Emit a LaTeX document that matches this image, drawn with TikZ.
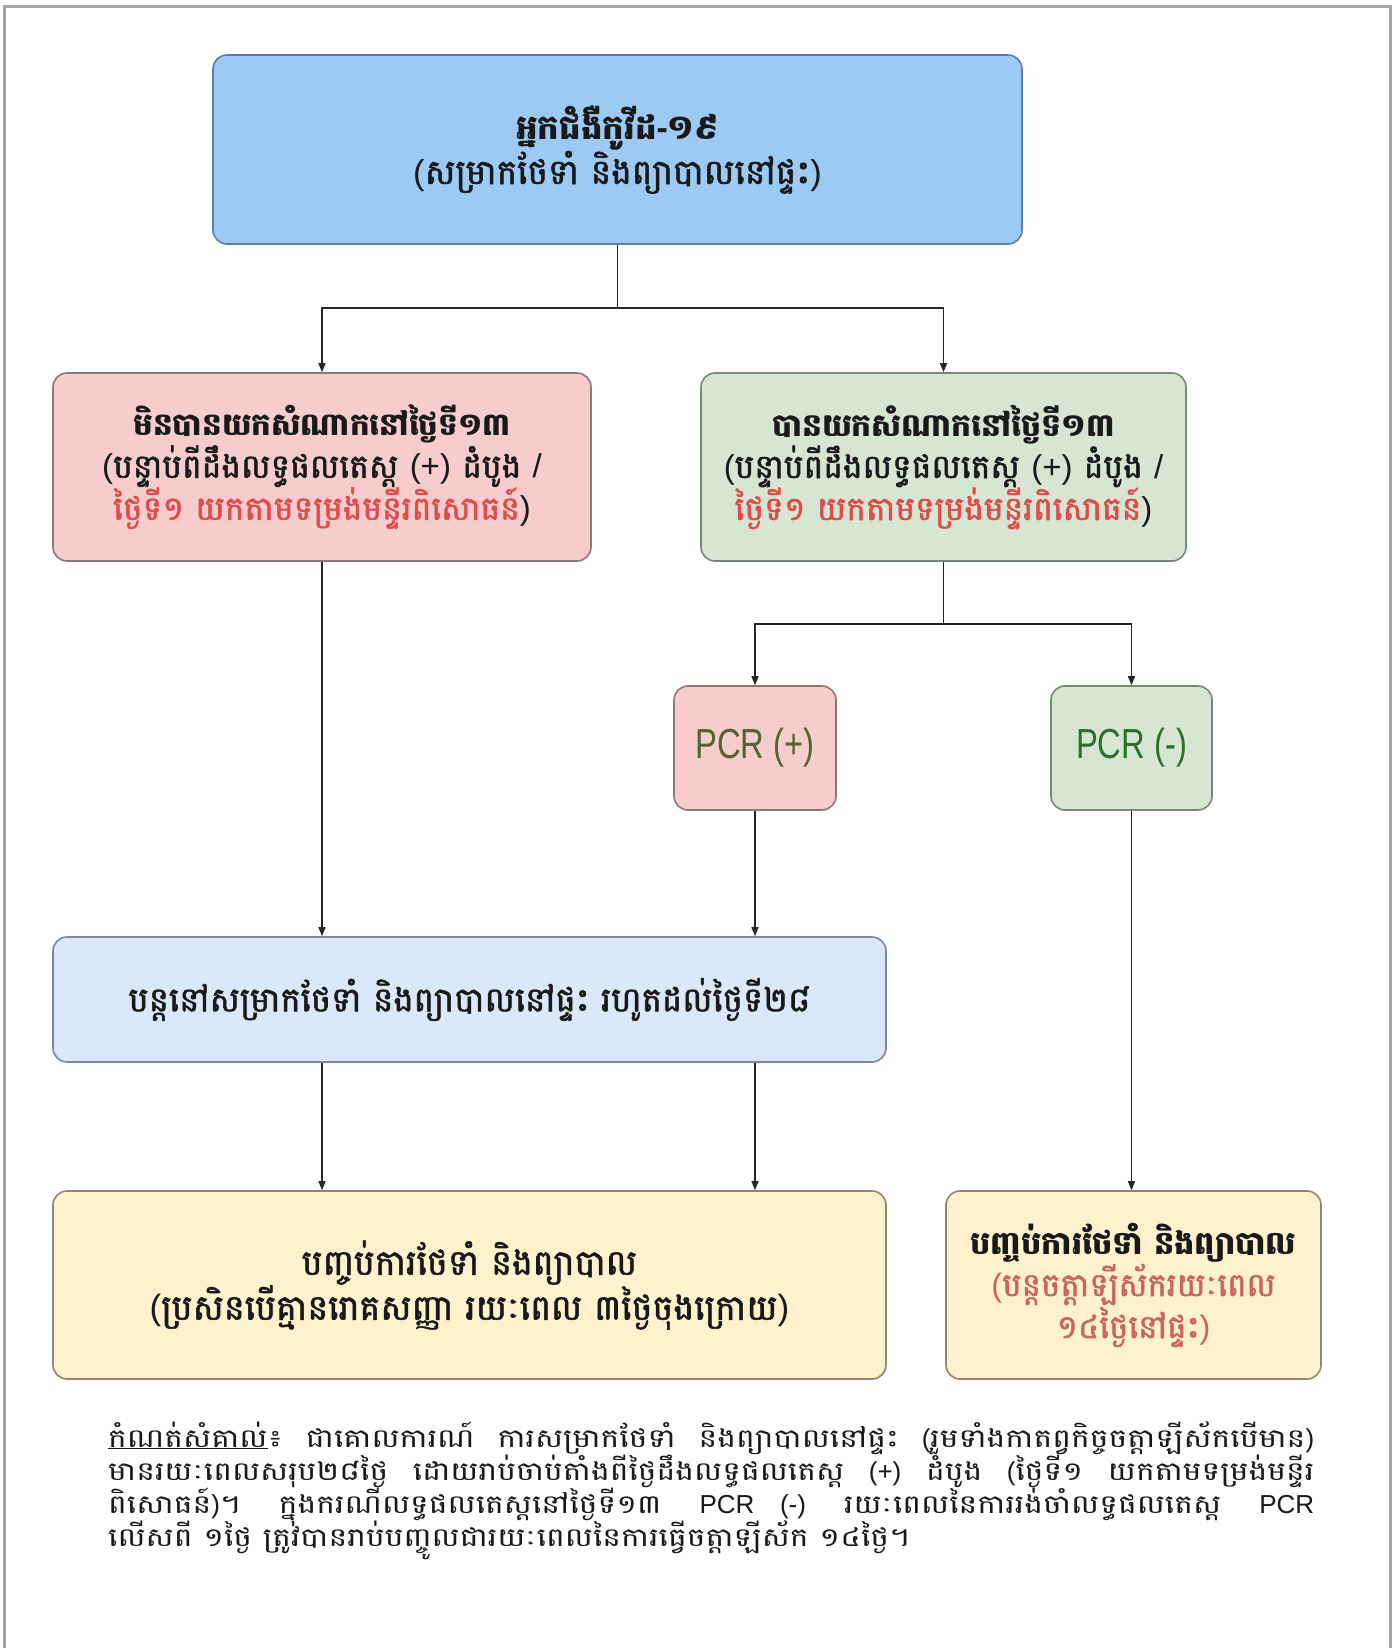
\documentclass[tikz,border=0pt]{standalone}
\usepackage{fontspec}
\usetikzlibrary{arrows.meta}
\setmainfont{Liberation Sans}
\newfontfamily\kh[Script=Khmer]{Battambang}
\newfontfamily\khm[Script=Khmer,FakeBold=1.6]{Battambang}
\newfontfamily\khn[Script=Khmer,FakeStretch=1.21]{Battambang}
\newcommand{\lat}[1]{{\rmfamily #1}}
\newcommand{\hd}[2]{{\kh\bfseries\fontsize{#1}{42}\selectfont #2}}
\newcommand{\notefont}{\khn\fontsize{26}{33}\selectfont\lineskiplimit=-60pt\relax}
\definecolor{topfill}{RGB}{156,202,245}
\definecolor{topdraw}{RGB}{95,125,170}
\definecolor{redfill}{RGB}{246,204,204}
\definecolor{reddraw}{RGB}{145,120,120}
\definecolor{grnfill}{RGB}{214,230,211}
\definecolor{grndraw}{RGB}{120,135,120}
\definecolor{bluefill}{RGB}{218,232,250}
\definecolor{bluedraw}{RGB}{120,135,170}
\definecolor{yelfill}{RGB}{253,242,205}
\definecolor{yeldraw}{RGB}{145,135,110}
\definecolor{txtred}{RGB}{225,75,75}
\definecolor{txtred2}{RGB}{205,100,95}
\definecolor{pcrplus}{RGB}{80,100,45}
\definecolor{pcrminus}{RGB}{45,110,45}
\definecolor{framegray}{RGB}{165,165,165}
\definecolor{txtdark}{RGB}{25,25,25}
\begin{document}
\begin{tikzpicture}[x=1pt,y=-1pt,
  box/.style={draw, rounded corners=14pt, line width=1.6pt, inner sep=0pt, align=center, text=txtdark},
  conn/.style={line width=1.4pt, draw=black!85},
  arr/.style={conn, -{Triangle[length=9pt,width=7pt]}},
  khsz/.style={font=\khm\fontsize{#1}{42}\selectfont},
  ]
\useasboundingbox (0,0) rectangle (1395,1648);
\fill[white] (0,0) rectangle (1395,1648);
\draw[framegray, line width=3pt] (4,1660) -- (4,7) -- (1390,7) -- (1390,1660);

\node[box, fill=topfill, draw=topdraw, minimum width=809pt, minimum height=189pt, khsz=34.5] (top) at (617.5,149.5)
  {\hd{34}{អ្នកជំងឺកូវីដ\lat{-}១៩}\\\lat{(}សម្រាកថែទាំ និងព្យាបាលនៅផ្ទះ\lat{)}};

\node[box, fill=redfill, draw=reddraw, minimum width=538pt, minimum height=188pt, khsz=33] (red) at (322,467)
  {\hd{31}{មិនបានយកសំណាកនៅថ្ងៃទី១៣}\\\lat{(}បន្ទាប់ពីដឹងលទ្ធផលតេស្ត \lat{(+)} ដំបូង \lat{/}\\{\color{txtred}ថ្ងៃទី១ យកតាមទម្រង់មន្ទីរពិសោធន៍}\lat{)}};

\node[box, fill=grnfill, draw=grndraw, minimum width=485pt, minimum height=188pt, khsz=33] (green) at (943.5,467)
  {\hd{31.5}{បានយកសំណាកនៅថ្ងៃទី១៣}\\\lat{(}បន្ទាប់ពីដឹងលទ្ធផលតេស្ត \lat{(+)} ដំបូង \lat{/}\\{\color{txtred}ថ្ងៃទី១ យកតាមទម្រង់មន្ទីរពិសោធន៍}\lat{)}};

\node[box, fill=redfill, draw=reddraw, minimum width=162pt, minimum height=124pt, text=pcrplus] (pcrp) at (755,748)
  {\scalebox{0.78}[1]{\fontsize{42}{42}\selectfont PCR (+)}};
\node[box, fill=grnfill, draw=grndraw, minimum width=161pt, minimum height=124pt, text=pcrminus] (pcrm) at (1131.5,748)
  {\scalebox{0.78}[1]{\fontsize{42}{42}\selectfont PCR (-)}};

\node[box, fill=bluefill, draw=bluedraw, minimum width=833pt, minimum height=125pt, khsz=34] (blue) at (469.5,999.5)
  {បន្តនៅសម្រាកថែទាំ និងព្យាបាលនៅផ្ទះ រហូតដល់ថ្ងៃទី២៨};

\node[box, fill=yelfill, draw=yeldraw, minimum width=833pt, minimum height=188pt, khsz=35] (yl) at (469.5,1285)
  {បញ្ចប់ការថែទាំ និងព្យាបាល\\\lat{(}ប្រសិនបើគ្មានរោគសញ្ញា រយៈពេល ៣ថ្ងៃចុងក្រោយ\lat{)}};

\node[box, fill=yelfill, draw=yeldraw, minimum width=375pt, minimum height=188pt, khsz=32.5] (yr) at (1133.5,1285)
  {\hd{32}{បញ្ចប់ការថែទាំ និងព្យាបាល}\\{\color{txtred2}\lat{(}បន្តចត្តាឡីស័ករយៈពេល}\\{\color{txtred2}១៤ថ្ងៃនៅផ្ទះ\lat{)}}};

\coordinate (j1) at (617.5,308);
\coordinate (j2) at (943.5,624);
\draw[conn] (top.south) -- (j1);
\draw[arr] (j1) -| (red.north);
\draw[arr] (j1) -| (green.north);
\draw[conn] (green.south) -- (j2);
\draw[arr] (j2) -| (pcrp.north);
\draw[arr] (j2) -| (pcrm.north);
\draw[arr] (red.south) -- (red.south |- blue.north);
\draw[arr] (pcrp.south) -- (pcrp.south |- blue.north);
\draw[arr] (red.south |- blue.south) -- (red.south |- yl.north);
\draw[arr] (pcrp.south |- blue.south) -- (pcrp.south |- yl.north);
\draw[arr] (pcrm.south) -- (pcrm.south |- yr.north);

\node[anchor=north west, inner sep=0pt, align=left, text=txtdark, font=\notefont] (note) at (108,1421)
  {\makebox[1206pt][s]{\underline{កំណត់សំគាល់}៖ ជាគោលការណ៍ ការសម្រាកថែទាំ និងព្យាបាលនៅផ្ទះ \lat{(}រួមទាំងកាតព្វកិច្ចចត្តាឡីស័កបើមាន\lat{)}}\\
   \makebox[1206pt][s]{មានរយៈពេលសរុប២៨ថ្ងៃ ដោយរាប់ចាប់តាំងពីថ្ងៃដឹងលទ្ធផលតេស្ត \lat{(+)} ដំបូង \lat{(}ថ្ងៃទី១ យកតាមទម្រង់មន្ទីរ}\\
   \makebox[1206pt][s]{ពិសោធន៍\lat{)}។ ក្នុងករណីលទ្ធផលតេស្តនៅថ្ងៃទី១៣ \lat{PCR (-)} រយៈពេលនៃការរង់ចាំលទ្ធផលតេស្ត \lat{PCR}}\\
   លើសពី ១ថ្ងៃ ត្រូវបានរាប់បញ្ចូលជារយៈពេលនៃការធ្វើចត្តាឡីស័ក ១៤ថ្ងៃ។};
\end{tikzpicture}
\end{document}
